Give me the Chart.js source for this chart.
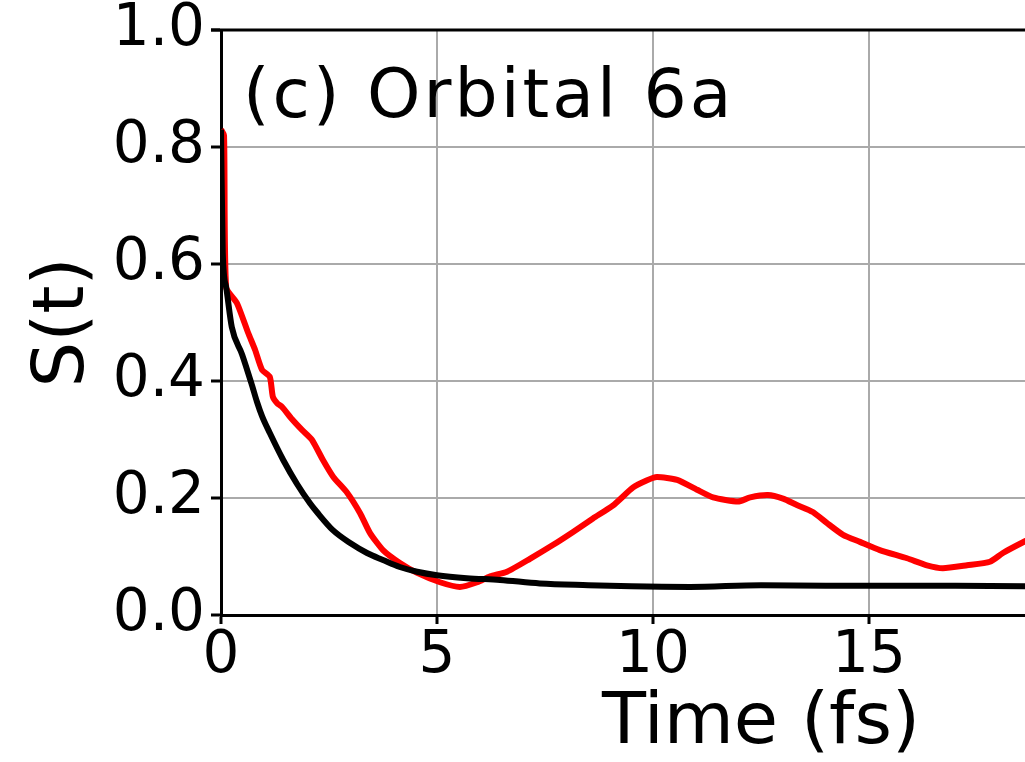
<!DOCTYPE html>
<html>
<head>
<meta charset="utf-8">
<title>S(t) - Orbital 6a</title>
<script src="https://cdn.jsdelivr.net/npm/chart.js@4.4.1/dist/chart.umd.min.js"></script>
<style>
  html, body { margin: 0; padding: 0; background: #fff; overflow: hidden; }
  #wrap { width: 1341px; height: 762px; }
</style>
</head>
<body>
<div id="wrap"><canvas id="survivalChart" width="1341" height="762"></canvas></div>
<script>
// ======================= DATA =======================
// red curve: simulated survival probability
const simTime = [0, 0.07, 0.12, 0.37, 0.63, 0.79, 0.95, 1.13, 1.20, 1.30, 1.41, 1.64, 1.88, 2.10, 2.36, 2.60, 2.92, 3.22, 3.45, 3.75, 4.14, 4.54,
  5.07, 5.53, 5.93, 6.23, 6.62, 7.15, 7.69, 8.15, 8.61, 9.07, 9.54, 9.85, 10.09, 10.56, 11.02, 11.39, 11.97, 12.25, 12.66,
  13.01, 13.33, 13.70, 14.03, 14.40, 14.79, 15.25, 15.88, 16.34, 16.71, 17.27, 17.80, 18.10, 18.61, 19.0];
const simS = [0.83, 0.82, 0.56, 0.533, 0.482, 0.453, 0.419, 0.407, 0.373, 0.362, 0.356, 0.335, 0.316, 0.300, 0.265, 0.236, 0.209, 0.174, 0.140, 0.111, 0.089, 0.072,
  0.056, 0.048, 0.056, 0.066, 0.074, 0.096, 0.120, 0.142, 0.165, 0.187, 0.218, 0.230, 0.236, 0.231, 0.214, 0.201, 0.194, 0.201, 0.205,
  0.199, 0.188, 0.176, 0.157, 0.137, 0.125, 0.111, 0.097, 0.085, 0.080, 0.085, 0.091, 0.106, 0.126, 0.140];

// black curve: fitted decay
const fitTime = [0, 0.04, 0.12, 0.25, 0.49, 0.72, 0.83, 0.95, 1.13, 1.44, 1.76, 2.06, 2.22, 2.59, 2.99, 3.38, 3.75, 4.14, 4.54, 5.0, 5.69, 6.46, 7.38,
  8.5, 9.5, 10.86, 12.5, 14.0, 15.5, 17.0, 18.6, 19.5];
const fitS = [0.83, 0.62, 0.56, 0.492, 0.445, 0.392, 0.365, 0.340, 0.311, 0.265, 0.224, 0.191, 0.176, 0.145, 0.123, 0.106, 0.094, 0.082, 0.074, 0.068, 0.063, 0.060, 0.054,
  0.051, 0.049, 0.048, 0.051, 0.050, 0.050, 0.050, 0.049, 0.049];

const xTickStep = 5;
const yTickStep = 0.2;
const xRange = [0, 25];
const yRange = [0, 1];

const panelLabel = '(c) Orbital 6a';
const xTitle = 'Time (fs)';
const yTitle = 'S(t)';

// ======================= HELPERS =======================
const FONT = '"DejaVu Sans", Verdana, sans-serif';
const toPoints = (xs, ys) => xs.map((x, i) => ({ x: x, y: ys[i] }));

// top/right frame line + panel label
const framePlugin = {
  id: 'frame',
  beforeDatasetsDraw(chart) {
    const { ctx, chartArea } = chart;
    ctx.save();
    ctx.strokeStyle = '#000';
    ctx.lineWidth = 3;
    ctx.beginPath();
    ctx.moveTo(chartArea.left - 10, chartArea.top);
    ctx.lineTo(chartArea.right, chartArea.top);
    ctx.lineTo(chartArea.right, chartArea.bottom);
    ctx.stroke();
    ctx.restore();
  },
  afterDraw(chart) {
    const { ctx, chartArea } = chart;
    ctx.save();
    ctx.fillStyle = '#000';
    ctx.font = '68px ' + FONT;
    ctx.letterSpacing = '3px';
    ctx.textBaseline = 'alphabetic';
    ctx.textAlign = 'left';
    ctx.fillText(panelLabel, chartArea.left + 22, chartArea.top + 87);
    ctx.restore();
  }
};

// ======================= CHART =======================
document.addEventListener('DOMContentLoaded', () => {
  const ctx = document.getElementById('survivalChart').getContext('2d');

  new Chart(ctx, {
    type: 'line',
    data: {
      datasets: [
        { label: 'fit', data: toPoints(fitTime, fitS), borderColor: '#000', borderWidth: 6,
          pointRadius: 0, cubicInterpolationMode: 'monotone', fill: false, order: 0 },
        { label: 'sim', data: toPoints(simTime, simS), borderColor: '#ff0000', borderWidth: 6,
          pointRadius: 0, tension: 0.2, fill: false, order: 1 }
      ]
    },
    options: {
      responsive: false,
      animation: false,
      devicePixelRatio: 1,
      layout: { padding: { top: 30, right: 40, bottom: 0, left: 0 } },
      plugins: { legend: { display: false }, tooltip: { enabled: false } },
      scales: {
        x: {
          type: 'linear', min: xRange[0], max: xRange[1],
          ticks: { stepSize: xTickStep, color: '#000', maxRotation: 0, padding: 4,
                   font: { family: FONT, size: 58, lineHeight: 1 }, callback: v => v },
          grid: { color: '#aaaaaa', lineWidth: 2, tickColor: '#000', tickWidth: 3, tickLength: 9 },
          border: { color: '#000', width: 3 },
          title: { display: true, text: xTitle, color: '#000', padding: { top: 0, bottom: 2 },
                   font: { family: FONT, size: 72, lineHeight: 1 } },
          afterFit: s => { s.height = 147; s.paddingLeft = 0; s.paddingRight = 0; }
        },
        y: {
          type: 'linear', min: yRange[0], max: yRange[1],
          ticks: { stepSize: yTickStep, color: '#000', padding: 6,
                   font: { family: FONT, size: 58, lineHeight: 1 }, callback: v => v.toFixed(1) },
          grid: { color: '#aaaaaa', lineWidth: 2, tickColor: '#000', tickWidth: 3, tickLength: 10 },
          border: { color: '#000', width: 3 },
          title: { display: true, text: yTitle, color: '#000', padding: { top: 28, bottom: 0 },
                   font: { family: FONT, size: 72, lineHeight: 1 } },
          afterFit: s => { s.width = 221; s.paddingTop = 0; s.paddingBottom = 0; }
        }
      }
    },
    plugins: [framePlugin]
  });
});
</script>
</body>
</html>
